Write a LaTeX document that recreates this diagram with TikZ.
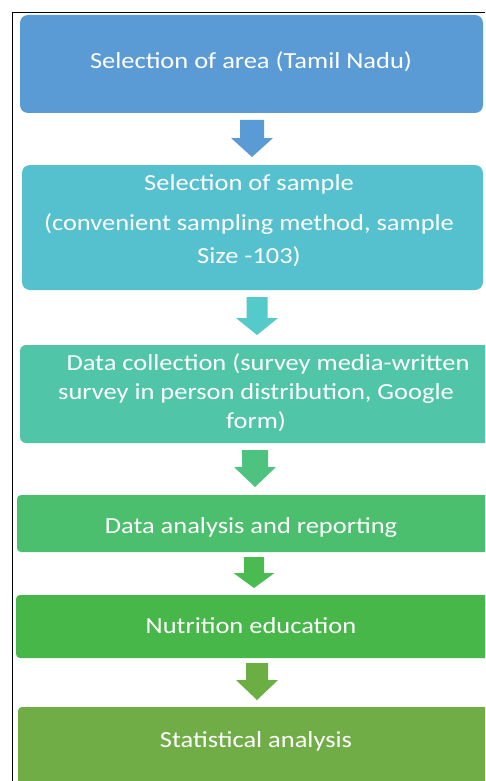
\documentclass[tikz,border=0pt]{standalone}
\usepackage{fontspec}
\setmainfont{Carlito}[FakeStretch=1.15]
\definecolor{cA}{HTML}{5B9BD5}
\definecolor{cB}{HTML}{55C1CF}
\definecolor{cC}{HTML}{50C5A8}
\definecolor{cD}{HTML}{4BBF6E}
\definecolor{cE}{HTML}{47B749}
\definecolor{cF}{HTML}{70AD47}
\definecolor{aB}{HTML}{54CACA}
\definecolor{aC}{HTML}{4EC37F}
\definecolor{aD}{HTML}{49BB50}
\definecolor{aE}{HTML}{6BAF44}
\tikzset{
  stage/.style={draw=none, inner sep=0pt, anchor=north west},
  stagetext/.style={text=white, align=center, anchor=base, inner sep=0pt,
    font=\fontsize{23}{31}\selectfont},
}
% block arrow: colour, centre x, shaft top, head top, tip, shaft half width, head half width
\newcommand{\blockarrow}[7]{%
  \fill[#1] (#2-#6,#3) -- (#2+#6,#3) -- (#2+#6,#4) -- (#2+#7,#4) -- (#2,#5)
    -- (#2-#7,#4) -- (#2-#6,#4) -- cycle;}
\begin{document}
\begin{tikzpicture}[x=1pt,y=-1pt]
\useasboundingbox (0,0) rectangle (485,781);
\fill[white] (0,0) rectangle (485,781);
\begin{scope}
\clip (0,0) rectangle (485,781);
% frame lines
\draw[black, line width=0.9pt] (12.5,781) -- (12.5,12.5) -- (485,12.5);
% stage boxes
\path[fill=cA, rounded corners=8pt] (20,15) rectangle (483,113);
\node[stage, minimum width=463pt, minimum height=98pt] (b1) at (20,15) {};
\path[fill=cB, rounded corners=8pt] (22,165) rectangle (483,290);
\node[stage, minimum width=461pt, minimum height=125pt] (b2) at (22,165) {};
\path[fill=cC, rounded corners=6pt] (20,345) rectangle (495,443);
\node[stage, minimum width=475pt, minimum height=98pt] (b3) at (20,345) {};
\path[fill=cD, rounded corners=4pt] (17,495) rectangle (495,552);
\node[stage, minimum width=478pt, minimum height=57pt] (b4) at (17,495) {};
\path[fill=cE, rounded corners=4pt] (16,595) rectangle (495,658);
\node[stage, minimum width=479pt, minimum height=63pt] (b5) at (16,595) {};
\path[fill=cF, rounded corners=4pt] (18,707) rectangle (495,795);
\node[stage, minimum width=477pt, minimum height=88pt] (b6) at (18,707) {};
% texts (anchor base = baseline of the last line)
\node[stagetext] (t1) at (251,68.5) {Selection of area (Tamil Nadu)};
\node[stagetext, font=\fontsize{23}{33}\selectfont] (t2) at (249,263)
  {Selection of sample\\[7pt](convenient sampling method, sample\\Size -103)};
\node[stagetext, font=\fontsize{23}{29}\selectfont] (t3) at (256,428)
  {\hspace*{24pt}Data collection (survey media-written\\survey in person distribution, Google\\form)};
\node[stagetext] (t4) at (251,533) {Data analysis and reporting};
\node[stagetext] (t5) at (251,633) {Nutrition education};
\node[stagetext] (t6) at (256,747) {Statistical analysis};
% arrows between stages
\blockarrow{cA}{252}{120}{138}{157}{12}{21}
\blockarrow{aB}{257}{297}{318}{335}{10.5}{21}
\blockarrow{aC}{255}{450}{467}{487}{13}{21}
\blockarrow{aD}{254}{557}{573}{588}{10}{20.5}
\blockarrow{aE}{257}{663}{680}{700}{11}{21}
\end{scope}
\end{tikzpicture}
\end{document}
